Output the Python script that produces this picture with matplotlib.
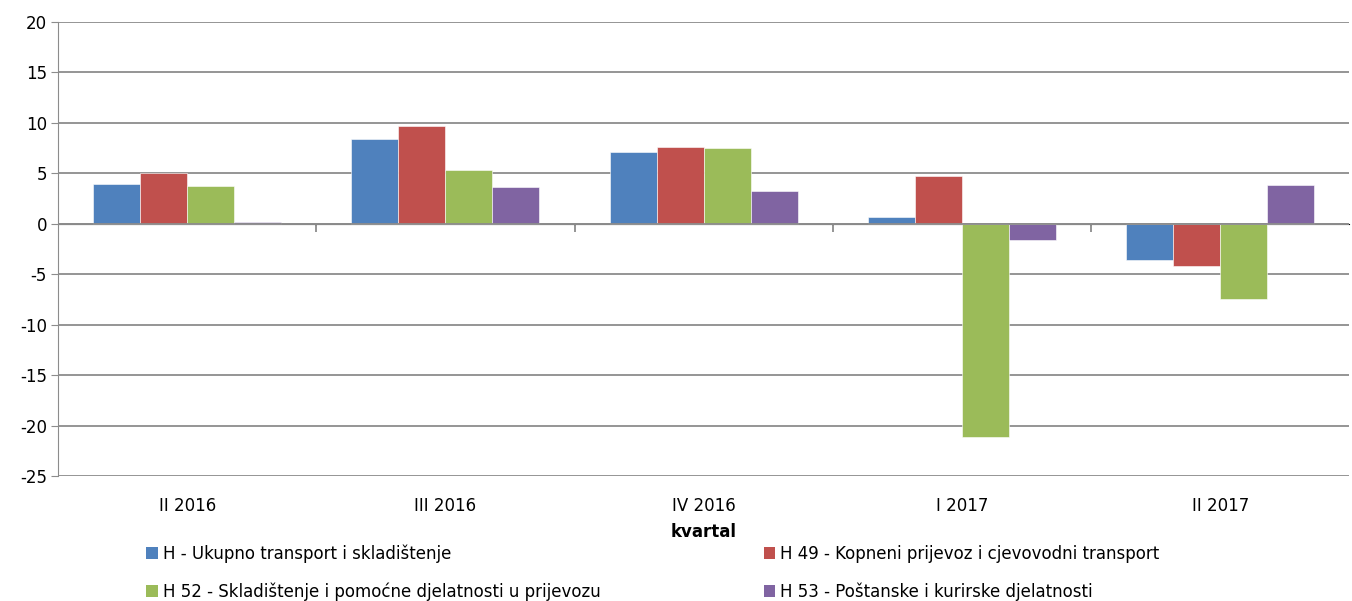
import numpy as np
import matplotlib.pyplot as plt
from matplotlib.patches import Patch

plt.rcParams['font.family'] = ['Liberation Sans Narrow', 'DejaVu Sans']
plt.rcParams['font.size'] = 12
plt.rcParams['axes.unicode_minus'] = False

categories = ['II 2016', 'III 2016', 'IV 2016', 'I 2017', 'II 2017']
series_names = ['H - Ukupno transport i skladištenje',
                'H 49 - Kopneni prijevoz i cjevovodni transport',
                'H 52 - Skladištenje i pomoćne djelatnosti u prijevozu',
                'H 53 - Poštanske i kurirske djelatnosti']
h_total = [3.9, 8.4, 7.1, 0.7, -3.6]
h49 = [5.0, 9.7, 7.6, 4.7, -4.2]
h52 = [3.7, 5.3, 7.5, -21.1, -7.5]
h53 = [0.2, 3.6, 3.2, -1.6, 3.8]
colors = ['#4F81BD', '#C0504D', '#9BBB59', '#8064A2']

fig = plt.figure(figsize=(13.52, 6.01), dpi=100)
ax = fig.add_axes([0.043, 0.208, 0.955, 0.7554])

x = np.arange(len(categories))
w = 0.182
for i, vals in enumerate([h_total, h49, h52, h53]):
    ax.bar(x + (i - 1.5) * w, vals, w, color=colors[i], edgecolor='white',
           linewidth=0.4, zorder=3)

ax.set_xlim(-0.5, len(categories) - 0.5)
ax.set_ylim(-25, 20)
ax.set_yticks(np.arange(-25, 21, 5))
ax.yaxis.grid(True, color='#8c8c8c', linewidth=1.3)
ax.set_axisbelow(True)
for s in ['top', 'right', 'bottom']:
    ax.spines[s].set_visible(False)
ax.spines['left'].set_color('#8c8c8c')
ax.tick_params(axis='y', length=5, color='#8c8c8c', labelsize=12, pad=3)
ax.set_xticks(x)
ax.set_xticklabels(categories)
ax.tick_params(axis='x', length=0, labelsize=12, pad=15)
ax.axhline(0, color='#8c8c8c', linewidth=1.3, zorder=4)

sec = ax.secondary_xaxis(25 / 45)
sec.set_xticks(x[:-1] + 0.5)
sec.set_xticklabels([])
sec.spines['bottom'].set_visible(False)
sec.tick_params(axis='x', direction='in', length=6, color='#8c8c8c', width=1.3)

ax.set_xlabel('kvartal', fontweight='bold', fontsize=12, labelpad=6)

# legend fills column-wise, so order entries to read row by row
order = [0, 2, 1, 3]
handles = [Patch(facecolor=colors[i]) for i in order]
labels = [series_names[i] for i in order]
fig.legend(handles, labels, ncol=2, loc='upper left',
           bbox_to_anchor=(0.103, 0.105), frameon=False, fontsize=12,
           handlelength=0.7, handleheight=0.7, handletextpad=0.3,
           columnspacing=9.8, labelspacing=1.14, borderaxespad=0)

fig.savefig('out.png', dpi=100)
